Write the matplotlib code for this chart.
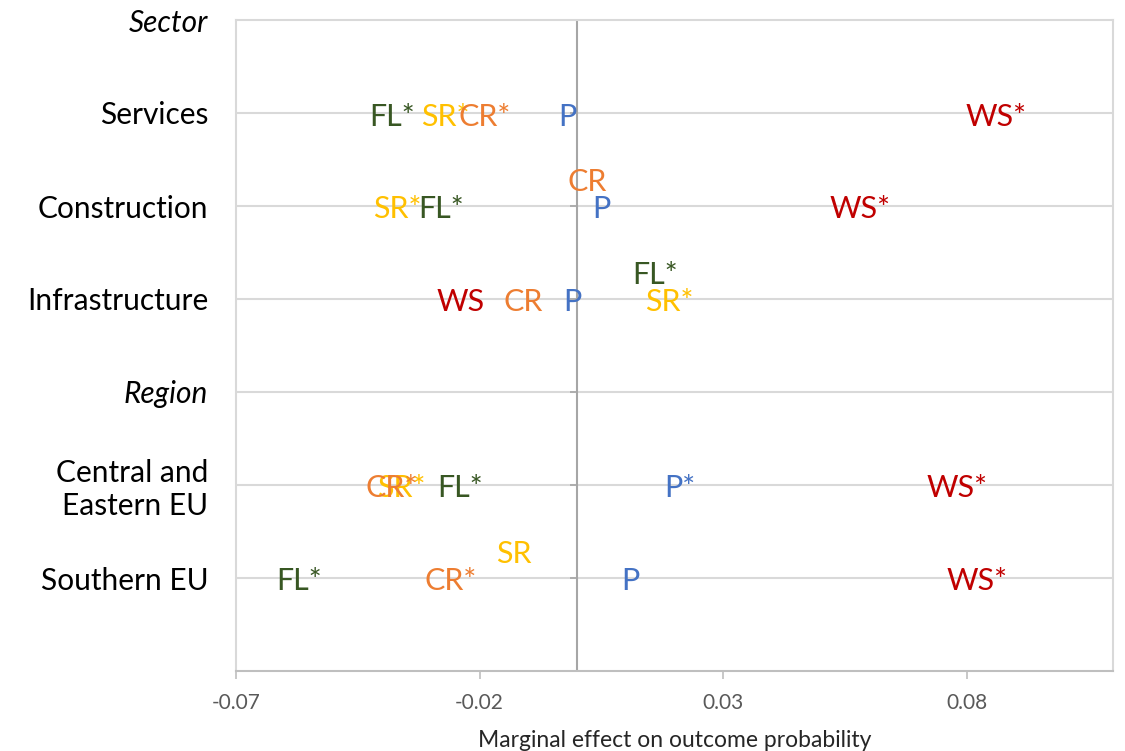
import matplotlib
matplotlib.use("Agg")
import matplotlib.pyplot as plt
from matplotlib.markers import TICKLEFT

# Rows from top to bottom (headers have no values)
categories = ["Sector", "Services", "Construction", "Infrastructure",
              "Region", "Central and\nEastern EU", "Southern EU"]
header_rows = ["Sector", "Region"]
data_rows = ["Services", "Construction", "Infrastructure",
             "Central and\nEastern EU", "Southern EU"]

# Marginal effects per data row, and significance flags (1 = starred)
fl_values = [-0.038, -0.028, 0.016, -0.024, -0.057]
fl_sig = [1, 1, 1, 1, 1]
sr_values = [-0.027, -0.037, 0.019, -0.036, -0.013]
sr_sig = [1, 1, 1, 1, 0]
cr_values = [-0.019, 0.002, -0.011, -0.038, -0.026]
cr_sig = [1, 0, 0, 1, 1]
p_values = [-0.002, 0.005, -0.001, 0.021, 0.011]
p_sig = [0, 0, 0, 1, 0]
ws_values = [0.086, 0.058, -0.024, 0.078, 0.082]
ws_sig = [1, 1, 0, 1, 1]

x_ticks = [-0.07, -0.02, 0.03, 0.08]

series = [
    ("FL", fl_values, fl_sig, "#385723"),
    ("SR", sr_values, sr_sig, "#FFC000"),
    ("CR", cr_values, cr_sig, "#ED7D31"),
    ("P", p_values, p_sig, "#4472C4"),
    ("WS", ws_values, ws_sig, "#C00000"),
]
# labels lifted above their row to avoid overlap: (series, row)
lifted = {("CR", "Construction"), ("FL", "Infrastructure"), ("SR", "Southern EU")}

font = ["Lato", "DejaVu Sans"]
plt.rcParams["font.family"] = font

fig = plt.figure(figsize=(11.25, 7.51), dpi=100)
ax = fig.add_axes([236 / 1125, 1 - 671 / 751, (1113 - 236) / 1125, (671 - 20) / 751])

n = len(categories)
ypos = {c: n - i for i, c in enumerate(categories)}

ax.set_xlim(-0.07, 0.11)
ax.set_ylim(0, n)

# gridlines at every row
for y in range(1, n):
    ax.axhline(y, color="#D9D9D9", lw=1.5, zorder=0)
ax.axvline(0, color="#A6A6A6", lw=1.5, zorder=1)
ax.plot([0] * (n + 1), list(range(n + 1)), ls="none", marker=TICKLEFT,
        markersize=5, color="#A6A6A6", mew=1.2, zorder=1)

for name, vals, sig, color in series:
    for row, v, s in zip(data_rows, vals, sig):
        y = ypos[row] + (0.3 if (name, row) in lifted else 0)
        ax.annotate(name + ("*" if s else ""), (v, y), xytext=(0, -9),
                    textcoords="offset points", color=color, fontsize=22,
                    ha="center", va="baseline", zorder=3)

ax.set_yticks([ypos[c] for c in categories])
ax.set_yticklabels(categories, fontsize=21.5, ha="right", linespacing=1.2)
for lbl in ax.get_yticklabels():
    if lbl.get_text() in header_rows:
        lbl.set_style("italic")
ax.tick_params(axis="y", length=0, pad=20)

ax.set_xticks(x_ticks)
ax.set_xticklabels(["%.2f" % t for t in x_ticks], fontsize=15, color="#595959")
ax.tick_params(axis="x", length=6, color="#BFBFBF", width=1.2, pad=10)
ax.set_xlabel("Marginal effect on outcome probability", fontsize=16.5,
              color="#262626", labelpad=12)

for side in ["left", "top", "right"]:
    ax.spines[side].set_color("#D9D9D9")
    ax.spines[side].set_linewidth(1.5)
ax.spines["bottom"].set_color("#BFBFBF")
ax.spines["bottom"].set_linewidth(1.5)

fig.savefig("out.png", dpi=100)
